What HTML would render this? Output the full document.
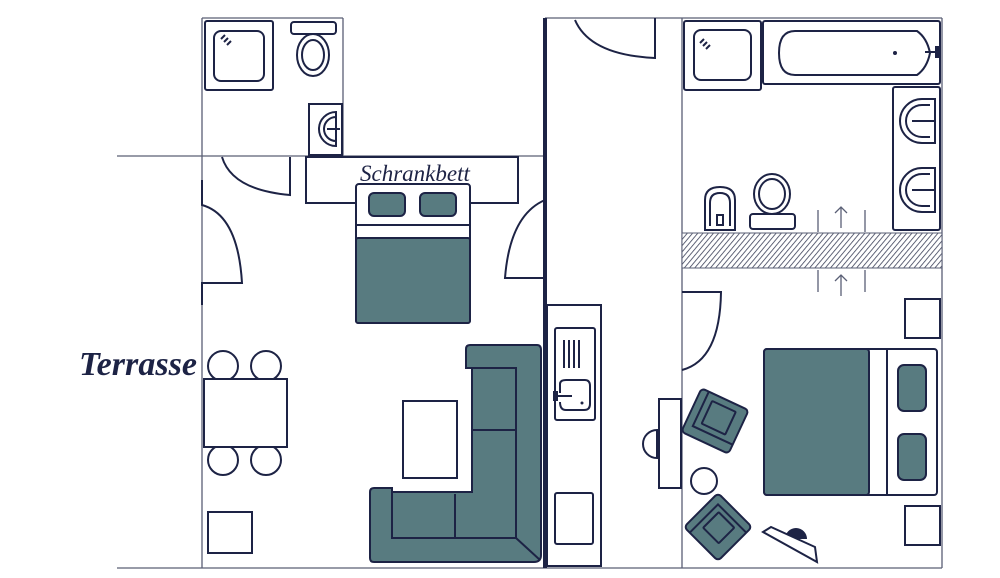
<!DOCTYPE html>
<html><head><meta charset="utf-8"><style>
html,body{margin:0;padding:0;background:#fff;width:1000px;height:578px;overflow:hidden}
svg{display:block}
.t{fill:none;stroke:#5a5f75;stroke-width:1.3}
.n{fill:none;stroke:#1d2345;stroke-width:2}
.w{fill:#fff;stroke:#1d2345;stroke-width:2}
.f{fill:#587b80;stroke:#1d2345;stroke-width:2}
.s{font-family:"Liberation Serif",serif;font-style:italic;fill:#1d2345;font-weight:bold}
</style></head><body>
<svg width="1000" height="578" viewBox="0 0 1000 578" xmlns="http://www.w3.org/2000/svg">
<defs>
<pattern id="h" width="4" height="4" patternUnits="userSpaceOnUse" patternTransform="rotate(40)">
<rect width="4" height="4" fill="#fff"/><line x1="0" y1="0" x2="0" y2="4" stroke="#3a3f58" stroke-width="1.6"/></pattern>
</defs>
<line class="t" x1="202" y1="18" x2="202" y2="568"/>
<line class="t" x1="202" y1="18" x2="343" y2="18"/>
<line class="t" x1="343" y1="18" x2="343" y2="156"/>
<line class="t" x1="117" y1="156" x2="545" y2="156"/>
<line class="t" x1="117" y1="568" x2="942" y2="568"/>
<line class="t" x1="545" y1="18" x2="942" y2="18"/>
<line class="t" x1="682" y1="18" x2="682" y2="568"/>
<line class="t" x1="942" y1="18" x2="942" y2="568"/>
<rect x="543" y="18" width="4" height="550" fill="#1d2345"/>
<rect class="w" x="205" y="21" width="68" height="69" rx="2"/>
<rect class="w" x="214" y="31" width="50" height="50" rx="7"/>
<path class="n" d="M221 39l4-4M224 42l4-4M227 45l4-4" stroke-width="1.2"/>
<rect class="w" x="291" y="22" width="45" height="12" rx="3"/>
<ellipse class="w" cx="313" cy="55" rx="16" ry="21"/>
<ellipse class="n" cx="313" cy="55" rx="11" ry="15" stroke-width="1.5"/>
<rect class="w" x="309" y="104" width="33" height="51"/>
<path class="n" d="M336 112 A16 16 0 1 0 336 146 Z" stroke-width="1.5"/>
<path class="n" d="M336 117 A11 11 0 1 0 336 141" stroke-width="1.2"/>
<line class="n" x1="327" y1="129" x2="340" y2="129" stroke-width="1.5"/>
<path class="n" d="M222 157 Q232 190 290 195 L290 157"/>
<path class="n" d="M202 180 L202 205 Q238 215 242 283 L202 283 L202 305"/>
<path class="n" d="M545 200 Q510 215 505 278 L545 278"/>
<rect class="w" x="306" y="157" width="212" height="46"/>
<rect class="w" x="356" y="184" width="114" height="139" rx="3"/>
<rect class="f" x="356" y="238" width="114" height="85" rx="2"/>
<line class="n" x1="356" y1="225" x2="470" y2="225"/>
<rect class="f" x="369" y="193" width="36" height="23" rx="5"/>
<rect class="f" x="420" y="193" width="36" height="23" rx="5"/>
<text class="s" x="360" y="181" font-size="23" font-weight="normal" style="font-weight:normal">Schrankbett</text>
<text class="s" x="79" y="375" font-size="34" textLength="118" lengthAdjust="spacingAndGlyphs">Terrasse</text>
<circle class="w" cx="223" cy="366" r="15"/>
<circle class="w" cx="266" cy="366" r="15"/>
<circle class="w" cx="223" cy="460" r="15"/>
<circle class="w" cx="266" cy="460" r="15"/>
<rect class="w" x="204" y="379" width="83" height="68"/>
<rect class="w" x="208" y="512" width="44" height="41"/>
<rect class="w" x="403" y="401" width="54" height="77"/>
<path class="f" d="M466 349 Q466 345 470 345 L537 345 Q541 345 541 350 L541 555 Q541 562 534 562 L374 562 Q370 562 370 558 L370 492 Q370 488 374 488 L392 488 L392 492 L472 492 L472 368 L466 368 Z"/>
<path class="n" d="M472 368 L516 368 L516 538 L392 538 L392 492" />
<line class="n" x1="472" y1="430" x2="516" y2="430"/>
<line class="n" x1="455" y1="494" x2="455" y2="538"/>
<line class="n" x1="516" y1="538" x2="540" y2="560"/>
<rect class="w" x="547" y="305" width="54" height="261"/>
<rect class="w" x="555" y="328" width="40" height="92" rx="2"/>
<path class="n" d="M564 340v28M569 340v28M574 340v28M579 340v28" stroke-width="1.5"/>
<path class="n" d="M560 393 L560 384 Q560 380 566 380 L585 380 Q590 380 590 386 L590 404 Q590 410 584 410 L566 410 Q560 410 560 402" stroke-width="1.5"/>
<rect x="553" y="391" width="5" height="10" fill="#1d2345"/>
<line class="n" x1="558" y1="396" x2="572" y2="396" stroke-width="1.3"/>
<circle cx="582" cy="403" r="1.5" fill="#1d2345"/>
<rect class="w" x="555" y="493" width="38" height="51" rx="2"/>
<path class="n" d="M575 20 Q590 55 655 58 L655 18"/>
<rect class="w" x="684" y="21" width="77" height="69" rx="2"/>
<rect class="w" x="694" y="30" width="57" height="50" rx="7"/>
<path class="n" d="M700 43l4-4M703 46l4-4M706 49l4-4" stroke-width="1.2"/>
<rect class="w" x="763" y="21" width="177" height="63" rx="2"/>
<path class="n" d="M795 31 L917 31 Q927 38 930 53 Q927 68 917 75 L795 75 Q779 75 779 53 Q779 31 795 31 Z" stroke-width="1.6"/>
<circle cx="895" cy="53" r="2" fill="#1d2345"/>
<rect x="935" y="46" width="5" height="12" fill="#1d2345"/>
<line class="n" x1="925" y1="52" x2="935" y2="52" stroke-width="1.3"/>
<rect class="w" x="893" y="87" width="47" height="143" rx="2"/>
<g>
<path class="n" d="M935 99 L922 99 A22 22 0 1 0 922 143 L935 143 Z" stroke-width="1.6"/>
<path class="n" d="M930 105 L922 105 A16 16 0 1 0 922 137 L930 137" stroke-width="1.3"/>
<line class="n" x1="912" y1="121" x2="935" y2="121" stroke-width="1.5"/>
<path class="n" d="M935 168 L922 168 A22 22 0 1 0 922 212 L935 212 Z" stroke-width="1.6"/>
<path class="n" d="M930 174 L922 174 A16 16 0 1 0 922 206 L930 206" stroke-width="1.3"/>
<line class="n" x1="912" y1="190" x2="935" y2="190" stroke-width="1.5"/>
</g>
<path class="w" d="M705 230 L705 200 Q705 187 720 187 Q735 187 735 200 L735 230 Z"/>
<path class="n" d="M710 226 L710 203 Q710 193 720 193 Q730 193 730 203 L730 226" stroke-width="1.3"/>
<rect class="n" x="717" y="215" width="6" height="10" stroke-width="1.3"/>
<ellipse class="w" cx="772" cy="194" rx="18" ry="20"/>
<ellipse class="n" cx="772" cy="194" rx="13" ry="15" stroke-width="1.4"/>
<rect class="w" x="750" y="214" width="45" height="15" rx="3"/>
<rect x="682" y="233" width="260" height="35" fill="url(#h)" stroke="#5a5f75" stroke-width="1"/>
<g class="t" stroke="#5a5f75">
<line x1="818" y1="210" x2="818" y2="232"/><line x1="865" y1="210" x2="865" y2="232"/>
<line x1="841" y1="228" x2="841" y2="207"/><path d="M835 213 L841 207 L847 213"/>
<line x1="818" y1="270" x2="818" y2="292"/><line x1="865" y1="270" x2="865" y2="292"/>
<line x1="841" y1="296" x2="841" y2="275"/><path d="M835 281 L841 275 L847 281"/>
</g>
<path class="n" d="M682 292 L721 292 Q720 360 682 370"/>
<rect class="w" x="905" y="299" width="35" height="39"/>
<rect class="w" x="905" y="506" width="35" height="39"/>
<rect class="w" x="764" y="349" width="173" height="146" rx="3"/>
<rect class="f" x="764" y="349" width="105" height="146" rx="3"/>
<line class="n" x1="887" y1="349" x2="887" y2="495"/>
<rect class="f" x="898" y="365" width="28" height="46" rx="6"/>
<rect class="f" x="898" y="434" width="28" height="46" rx="6"/>
<rect class="w" x="659" y="399" width="22" height="89"/>
<path class="w" d="M657 430 A14 14 0 1 0 657 458 Z"/>
<circle class="w" cx="704" cy="481" r="13"/>
<g transform="translate(715 421) rotate(25)">
<rect class="f" x="-26" y="-24" width="52" height="48" rx="4"/>
<path class="n" d="M-18 -24 L-18 14 L26 14"/>
<rect class="f" x="-11" y="-17" width="26" height="25" rx="1" stroke-width="1.5"/>
</g>
<g transform="translate(718 527) rotate(-45)">
<rect class="f" x="-24" y="-24" width="48" height="48" rx="4"/>
<path class="n" d="M-24 -16 L16 -16 L16 24"/>
<rect class="f" x="-11" y="-10" width="22" height="22" rx="1" stroke-width="1.5"/>
</g>
<path d="M785 539 A11 11 0 0 1 807 539 Z" fill="#1d2345"/>
<polygon class="w" points="763,532 771,527 815,547 817,562"/>
</svg>
</body></html>
